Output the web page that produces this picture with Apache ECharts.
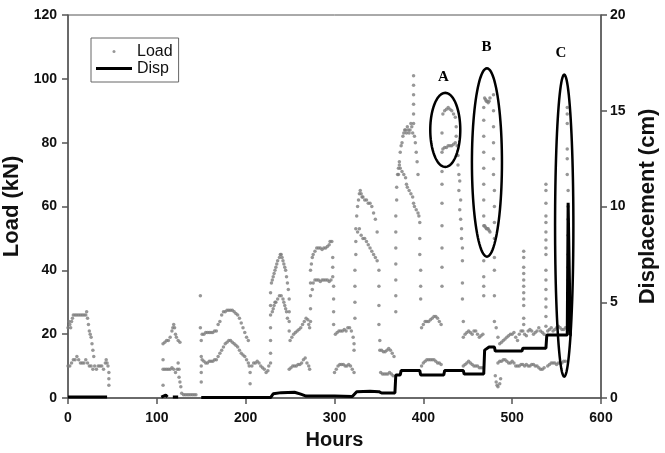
<!DOCTYPE html>
<html><head><meta charset="utf-8">
<script src="https://cdn.jsdelivr.net/npm/echarts@6/dist/echarts.min.js"></script>
<style>html,body{margin:0;padding:0;background:#fff}#c{width:665px;height:453px}</style>
</head><body><div id="c"></div>
<script>
// ---- Load (kN) readings [hour, kN] ----
const load0to50 = [[0,22],[1,24],[2,23],[3,22],[4,24],[5,25],[6,26],[8,26],[10,26],[12,26],[14,26],[16,26],[18,26],[20,26],[21,27],[22,25],[23,23],[24,21],[25,20],[26,19],[27,17],[28,15],[29,13],
  [0,10],[2,10],[4,11],[6,12],[8,12],[10,13],[12,12],[14,11],[16,11],[18,11],[20,12],[22,11],[24,10],[26,10],[28,9],[30,10],[32,9],[34,10],[36,10],[38,10],[40,9],[42,11],[43,12],[44,11],[45,10],[46,8],[46,6],[46,4]];
const load100to150 = [[107,17],[109,17.5],[111,18],[113,18],[115,19],[117,21],[118,22],[119,23],[120,22],[121,20],[122,19],[124,18],[126,17.5],
  [107,12],[107,9],[109,9],[111,9],[113,9],[115,9],[117,9.5],[119,9],[121,8],[123,9],[125,9],[107,4],[124,11],[125,6.5],[126,5],[127,3.5],[128,1.5],[130,1],[132,1],[134,1],[136,1],[138,1],[140,1],[142,1],[144,1]];
const load150to230 = [[149,32],[149,22],[150,18],[150,13],[150,10],[150,8],[150,5],
  [151,20],[153,20],[155,20.5],[157,20.5],[159,20.5],[161,20.5],[163,20.5],[165,21],[167,21],[169,23],[171,24],[173,26],[175,27],[177,27],[179,27.5],[181,27.5],[183,27.5],[185,27.5],[187,27],[189,26.5],[191,26],[193,25],[195,23.5],[197,22],[199,20.5],[201,19],[203,18],
  [151,12],[153,11.5],[155,11],[157,11],[159,11.5],[161,11.5],[163,11.5],[165,12],[167,12],[169,13],[171,14],[173,15],[175,16],[177,17],[179,17.5],[181,18],[183,18],[185,17.5],[187,17],[189,16.5],[191,16],[193,15],[195,14],[197,13.5],[199,13],[201,12],[203,11],[204,10],[205,8],[205,4.5],
  [207,10],[209,11],[211,11],[213,11.5],[215,11],[217,10],[219,9.5],[221,9],[223,8],[225,8.5],[226,10]];
const load228to300 = [[228,33],[228,29],[228,26],[228,22],[228,18],[228,14],[228,11],
  [229,36],[230,37],[231,38],[232,39],[233,40],[234,41],[235,42],[236,43],[238,44],[239,45],[240,45],[241,44],[242,43],[243,42],[244,41],[245,40],[246,38],[247,36],[248,34],
  [230,27],[231,28],[232,29],[233,30],[234,30],[236,31],[238,32],[240,32],[242,31],[243,30],[244,29],[245,28],[246,27],[247,25],
  [249,31],[249,27],[249,24],[249,21],
  [250,18],[252,19],[254,20],[256,20.5],[258,21],[260,21.5],[262,22],[264,23],[266,24],[268,25],[270,24.5],[271,23],[272,22],
  [249,9],[251,9.5],[253,10],[255,10],[257,10],[259,10.5],[261,10.5],[263,11],[265,12],[267,12.5],[269,11],[271,10],[272,9],
  [273,40],[273,36],[273,32],[273,28],[273,24],
  [274,42],[275,44],[276,45],[278,46],[280,47],[282,47],[284,47],[286,46.5],[288,47],[290,47],[292,47.5],[294,48],[295,49],[297,49],
  [275,34],[276,36],[278,37],[280,37],[282,37],[284,36.5],[286,37],[288,37],[290,37],[292,37],[294,36.5],[296,37],
  [298,44],[298,41],[298,38],[299,35],[299,31],[299,27],[299,23]];
const load300to370 = [[301,20],[303,20.5],[305,21],[307,21],[309,21],[311,21.5],[313,21],[315,22],[317,22],[319,21],[321,19],[322,17],[322,15],
  [300,8],[302,9],[304,10],[306,10.5],[308,10.5],[310,10.5],[312,10],[314,10],[316,10.5],[318,10],[320,9],[322,8],
  [323,25],[323,30],[323,35],[323,40],[324,45],[324,49],[324,53],[325,57],
  [326,60],[327,62],[328,64],[329,65],[330,64],[331,63],[332,63],[334,62],[336,62],[338,61],[340,61],[342,60],[344,58],[346,56],[348,52],
  [326,52],[328,53],[330,51],[332,50],[334,50],[336,49],[338,48],[340,47],[342,46],[344,45],[346,44],[348,43],
  [350,40],[350,35],[350,29],[350,23],[351,18],
  [351,15],[353,15],[355,14.5],[357,14.5],[359,15],[361,15.5],[363,15],[365,14],[367,13],
  [352,8],[354,7.5],[356,7.5],[358,7.5],[360,7.5],[362,8],[364,7.5],[366,7]];
const load368to420 = [[369,27],[369,32],[369,37],[369,42],[369,47],[369,52],[369,57],[370,62],[370,66],
  [389,101],[389,98],[389,95],[389,92],[389,89],[389,86],
  [372,70],[373,74],[374,77],[375,79],[376,80],[377,82],[378,83],[379,84],[380,84],[381,83],[382,85],[383,84],[384,83],[385,84],[386,86],[387,85],[388,83],[390,82],[391,80],[392,77],[393,74],[394,70],
  [371,70],[372,72],[373,73],[374,72],[376,71],[378,70],[380,69],[381,67],[382,66],[384,65],[386,64],[388,63],[389,61],[390,60],[392,59],[394,58],[395,57],
  [396,55],[396,50],[396,45],[397,40],[397,35],[397,31],
  [398,22],[400,23],[402,24],[404,24],[406,24],[408,24.5],[410,25],[412,25.5],[414,25.5],[416,25],[418,24],[420,23],
  [398,10],[400,11],[402,11.5],[404,12],[406,12],[408,12],[410,12],[412,12],[414,11.5],[416,11],[418,11],[420,10.5]];
const load420to480 = [[421,35],[421,41],[421,47],[421,54],[421,61],[421,67],[421,71],[421,77],[421,83],
  [422,89],[424,90],[426,90.5],[428,91],[430,90.5],[432,90],[434,89],[436,88],[437,85],[437,82],[438,79],
  [422,78],[424,78.5],[426,78.5],[428,79],[430,79],[432,79],[434,79.5],[436,80],
  [439,76],[439,73],[440,70],[441,68],[440,65],[442,62],[441,59],[442,56],[443,53],[443,50],[444,47],[444,43],[444,36],[444,31],[445,24],
  [445,19],[447,20],[449,20.5],[451,21],[453,20.5],[455,20],[457,21],[459,21],[461,20],[463,19],[465,19.5],[467,20],
  [445,10],[447,10.5],[449,11],[451,11.5],[453,11],[455,10.5],[457,10],[459,10],[461,10],[463,9.5],[465,9.5],[467,9.5],
  [468,91],[468,87],[468,82],[468,77],[468,72],[468,67],[468,62],[468,57],[468,54],[468,43],[468,38],[468,35],[468,32],
  [469,94],[470,93.5],[471,93],[472,93],[473,92.5],[474,93],[475,94],
  [469,54],[470,53.5],[471,53],[472,53],[473,53],[474,52.5],[475,52],
  [479,95],[479,90],[479,85],[479,80],[479,75],[479,70],[480,65],[480,60],[480,55],[480,50],[480,44],[480,40],[480,32],[480,24]];
const load480to570 = [[481,7],[482,5],[483,4],[484,3.5],[486,4.5],[487,6],
  [482,22],[484,19],[486,17],[488,17.5],[490,18],[492,18.5],[494,19],[496,19.5],[498,20],[500,20],[502,20.5],[504,19],[506,18],[508,20],[510,21],[512,21],[514,20],[516,19.5],[518,21],[520,21.5],[522,21],[524,20],[526,20.5],[528,21],[530,22],[532,21],[534,20.5],[536,20],
  [484,11],[486,11.5],[488,11.5],[490,12],[492,12],[494,11.5],[496,11],[498,11],[500,11.5],[502,11],[504,10],[506,10],[508,10],[510,10.5],[512,10.5],[514,10],[516,10.5],[518,10],[520,10],[522,10.5],[524,10.5],[526,10],[528,10],[530,9.5],[532,9],[534,9],[536,9.5],
  [513,46],[513,44],[513,41],[513,39],[513,37],[513,35],[513,33],[513,31],[513,29],[513,25],[513,23],
  [538,67],[538,65],[538,61],[538,57],[538,55],[538,52],[538,49.5],[538,47],[538,45],[538,40],[538,37],[538,34],[538,31],[538,28.5],[538,25.5],[538,22.5],
  [540,21],[542,21.5],[544,22],[546,21],[548,21.5],[550,22],[552,22.5],[554,22],[556,21.5],[558,21.5],[560,22],
  [540,10],[542,10.5],[544,11],[546,11],[548,11],[550,10.5],[552,11],[554,11],[556,11],[558,11.5],[560,11.5],
  [562,91],[562,89],[562,86],[562,78],[562,75],[562,70],[563,65],[563,60],[563,56],[563,51],[563,45],[563,41],[563,37],[563,33],[563,28],[563,22]];

// ---- Displacement (cm) [hour, cm]; '-' marks a gap ----
const dispData = [[0,0.05],[44,0.05],[46,'-'],
  [105,0.05],[107,0.15],[110,0.15],[112,0.05],[113,'-'],
  [118,0.05],[124,0.05],[125,'-'],
  [150,0.02],[228,0.02],[231,0.22],[240,0.28],[255,0.3],[262,0.2],[268,0.1],[300,0.1],[320,0.08],[322,0.1],[325,0.33],[340,0.35],[350,0.33],[353,0.26],[368,0.26],
  [369,1.2],[374,1.2],[375,1.43],[396,1.43],[397,1.2],[423,1.2],[424,1.43],[445,1.43],[446,1.25],[468,1.25],
  [469,2.5],[474,2.66],[480,2.66],[481,2.45],[511,2.45],[512,2.6],[538,2.6],[539,3.29],[562,3.29],[563,10.2],[565,10.2],[565.5,3.3],[567,3.3]];

// ---- annotation ellipses: [centreHour, centreKN, radiusHours, radiusKN, labelHour, labelKN] ----
const ellipseNames = ['A','B','C'];
const ellipseData = [[424.7,84,16.9,11.6,422.5,100.6],[471.6,73.8,16.9,29.5,471,110],[558.6,54,10.3,47.3,555,108]];

const xTicks = {min:0,max:600,interval:100};
const loadTicks = {min:0,max:120,interval:20};
const dispTicks = {min:0,max:20,interval:5};

const loadAll = [].concat(load0to50, load100to150, load150to230, load228to300, load300to370, load368to420, load420to480, load480to570);

const chart = echarts.init(document.getElementById('c'), null, {renderer:'canvas'});
const axisCol = '#555';
const lblFont = {fontFamily:'Liberation Sans', fontWeight:'bold', fontSize:14, color:'#111'};
chart.setOption({
  animation:false,
  backgroundColor:'#fff',
  grid:{left:68,right:64,top:15,bottom:55,outerBoundsMode:'none',containLabel:false,show:true,borderColor:axisCol,borderWidth:1,backgroundColor:'transparent'},
  legend:{orient:'vertical',left:91,top:38,padding:[5,6,5,5],itemGap:0,itemWidth:36,itemHeight:3,
    borderColor:'#666',borderWidth:1,
    textStyle:{fontFamily:'Liberation Sans',fontSize:16,color:'#111',lineHeight:17},
    data:[{name:'Load',icon:'circle'},{name:'Disp',icon:'rect'}]},
  xAxis:{type:'value',min:xTicks.min,max:xTicks.max,interval:xTicks.interval,
    name:'Hours',nameLocation:'middle',nameGap:32,
    nameTextStyle:{fontFamily:'Liberation Sans',fontWeight:'bold',fontSize:20,color:'#111'},
    axisLine:{show:true,lineStyle:{color:axisCol,width:1.5}},
    axisTick:{show:true,length:6,lineStyle:{color:axisCol,width:1.5}},
    axisLabel:Object.assign({margin:13},lblFont),
    splitLine:{show:false}},
  yAxis:[
    {type:'value',min:loadTicks.min,max:loadTicks.max,interval:loadTicks.interval,
     name:'Load (kN)',nameLocation:'middle',nameGap:42,
     nameTextStyle:{fontFamily:'Liberation Sans',fontWeight:'bold',fontSize:22,color:'#111'},
     axisLine:{show:true,lineStyle:{color:axisCol,width:1.5}},
     axisTick:{show:true,length:6,lineStyle:{color:axisCol,width:1.5}},
     axisLabel:Object.assign({margin:11},lblFont),
     splitLine:{show:false}},
    {type:'value',min:dispTicks.min,max:dispTicks.max,interval:dispTicks.interval,position:'right',
     name:'Displacement (cm)',nameLocation:'middle',nameGap:34,nameRotate:90,
     nameTextStyle:{fontFamily:'Liberation Sans',fontWeight:'bold',fontSize:22,color:'#111'},
     axisLine:{show:true,lineStyle:{color:axisCol,width:1.5}},
     axisTick:{show:true,length:6,lineStyle:{color:axisCol,width:1.5}},
     axisLabel:Object.assign({margin:9},lblFont),
     splitLine:{show:false}}
  ],
  series:[
    {name:'Load',type:'scatter',data:loadAll,symbol:'circle',symbolSize:3.5,
     itemStyle:{color:'#7d7d7d'},xAxisIndex:0,yAxisIndex:0,z:2},
    {name:'Disp',type:'line',data:dispData,yAxisIndex:1,showSymbol:false,symbol:'none',
     lineStyle:{color:'#000',width:3},itemStyle:{color:'#000'},connectNulls:false,z:3},
    {name:'ellipses',type:'custom',data:ellipseData,xAxisIndex:0,yAxisIndex:0,z:4,clip:false,
     encode:{x:0,y:1},
     renderItem:function(params,api){
       const c = api.coord([api.value(0),api.value(1)]);
       const rx = api.size([api.value(2),0])[0];
       const ry = api.size([0,api.value(3)])[1];
       const pts = [];
       for (let i=0;i<96;i++){const t=i/96*2*Math.PI;pts.push([c[0]+rx*Math.cos(t),c[1]+ry*Math.sin(t)]);}
       const lp = api.coord([api.value(4),api.value(5)]);
       return {type:'group',children:[
         {type:'polygon',shape:{points:pts},style:{fill:'none',stroke:'#000',lineWidth:2.5}},
         {type:'text',x:lp[0],y:lp[1],style:{text:ellipseNames[params.dataIndex],font:'bold 15px "Liberation Serif"',fill:'#000',align:'center',verticalAlign:'middle'}}
       ]};
     }}
  ]
});
</script></body></html>
